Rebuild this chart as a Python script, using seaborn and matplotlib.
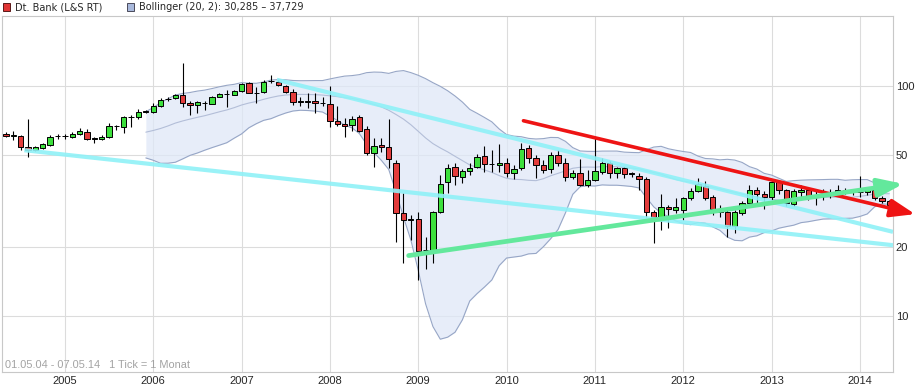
import numpy as np
import pandas as pd
import seaborn as sns
import matplotlib.pyplot as plt
from matplotlib.patches import Rectangle
from matplotlib.ticker import NullLocator

# monthly candles, May 2004 .. May 2014
opens = [61.9, 60.6, 60.6, 54.3, 52.8, 53.8, 55.4, 60.4, 60.6, 60.0,
         61.9, 63.1, 58.9, 58.9, 60.0, 66.6, 66.4, 73.3, 73.3, 77.1,
         77.1, 81.9, 87.7, 88.7, 91.4, 84.3, 82.7, 84.3, 83.5, 89.6,
         92.3, 91.4, 95.1, 103.0, 93.2, 94.2, 105.0, 104.1, 100.0, 94.2,
         85.3, 85.3, 86.0, 84.2, 83.5, 70.5, 68.4, 67.7, 73.3, 65.0,
         51.2, 55.4, 54.3, 46.2, 28.0, 26.2, 26.4, 19.3, 19.1, 28.4,
         38.2, 44.6, 40.0, 42.7, 44.5, 49.6, 45.7, 45.3, 46.4, 41.6,
         43.9, 53.5, 48.5, 45.3, 43.5, 50.0, 46.1, 40.1, 41.7, 37.1,
         39.1, 42.3, 46.1, 41.7, 43.9, 41.5, 40.7, 39.4, 28.2, 26.9,
         29.8, 28.9, 28.9, 32.5, 35.0, 36.7, 32.9, 29.2, 28.3, 24.6,
         28.1, 30.9, 35.1, 34.0, 32.9, 38.1, 35.1, 30.7, 34.4, 35.1,
         33.3, 33.6, 33.9, 34.4, 35.1, 34.9, 34.6, 34.6, 35.1, 32.6,
         31.6]
highs = [63.1, 63.7, 60.9, 71.9, 55.0, 56.5, 61.3, 62.0, 62.0, 63.0,
         65.5, 65.0, 60.0, 61.0, 68.9, 67.7, 74.0, 74.8, 79.4, 78.6,
         84.3, 88.7, 89.1, 92.5, 125.9, 86.0, 86.0, 85.5, 90.5, 93.0,
         95.6, 96.0, 103.0, 103.5, 99.0, 106.2, 111.6, 106.0, 101.0, 97.0,
         89.5, 93.3, 92.9, 89.8, 100.0, 81.9, 72.4, 74.1, 74.8, 66.7,
         59.2, 59.2, 71.7, 47.7, 34.2, 27.5, 28.4, 22.0, 28.6, 41.1,
         45.8, 46.2, 43.5, 46.4, 50.6, 54.6, 52.7, 56.0, 48.5, 45.3,
         56.3, 55.4, 50.0, 47.7, 51.8, 52.7, 48.5, 43.2, 48.0, 43.0,
         60.0, 48.5, 47.0, 44.6, 44.6, 42.2, 41.7, 40.0, 28.9, 34.0,
         30.5, 32.6, 33.0, 35.9, 39.7, 38.4, 33.5, 30.5, 29.0, 29.0,
         31.5, 37.1, 36.5, 35.0, 38.5, 39.0, 35.5, 35.5, 37.1, 36.0,
         35.0, 35.5, 35.5, 37.1, 36.0, 35.5, 40.4, 36.5, 35.5, 33.2,
         31.9]
lows = [60.0, 58.2, 52.7, 49.1, 52.3, 53.0, 55.0, 59.0, 59.0, 59.5,
        61.0, 58.0, 56.5, 58.0, 59.5, 64.4, 62.5, 66.4, 72.0, 76.3,
        76.5, 81.0, 86.0, 88.0, 81.0, 74.8, 76.3, 78.6, 83.0, 89.0,
        81.0, 91.0, 94.0, 93.0, 84.3, 93.0, 103.0, 100.0, 93.0, 82.2,
        81.9, 80.2, 76.3, 81.3, 66.4, 66.7, 60.2, 63.8, 63.0, 50.0,
        44.3, 51.8, 43.9, 21.0, 17.0, 21.4, 14.3, 16.0, 17.0, 28.0,
        34.2, 37.1, 37.7, 41.1, 44.0, 42.4, 42.4, 42.4, 40.3, 39.4,
        43.0, 46.1, 39.7, 42.0, 41.7, 45.0, 38.4, 39.5, 36.7, 36.5,
        38.5, 41.5, 39.7, 39.7, 39.7, 40.3, 35.3, 27.0, 20.7, 23.7,
        24.0, 28.0, 26.2, 32.0, 34.5, 32.0, 27.5, 27.0, 22.1, 23.0,
        27.5, 30.0, 30.9, 29.1, 32.0, 34.0, 30.0, 29.9, 33.0, 32.0,
        30.4, 32.0, 32.5, 33.5, 34.0, 33.5, 33.0, 33.5, 32.0, 31.0,
        30.1]
closes = [60.6, 60.9, 54.3, 52.7, 54.3, 56.0, 60.0, 60.4, 60.6, 61.9,
          63.7, 58.9, 58.9, 60.0, 67.0, 66.6, 73.3, 73.3, 77.1, 77.1,
          81.9, 86.9, 87.7, 91.4, 84.3, 82.7, 85.2, 84.3, 89.6, 92.3,
          92.3, 95.1, 102.0, 93.2, 93.2, 104.1, 105.0, 101.0, 94.2, 85.2,
          85.3, 85.3, 84.3, 84.2, 70.5, 68.4, 67.0, 71.9, 63.8, 51.2,
          54.9, 54.3, 48.1, 28.0, 26.2, 26.2, 19.1, 19.3, 28.4, 37.4,
          44.1, 40.7, 42.7, 44.0, 48.9, 45.8, 45.7, 46.0, 41.6, 43.4,
          53.0, 48.5, 45.3, 43.2, 50.0, 46.1, 40.1, 41.7, 37.1, 39.1,
          42.8, 46.4, 41.7, 43.9, 41.4, 41.5, 39.4, 28.2, 26.9, 29.8,
          29.2, 29.6, 32.5, 35.0, 37.4, 32.5, 29.2, 28.4, 24.6, 28.3,
          30.9, 35.1, 34.0, 32.9, 38.1, 35.1, 30.9, 34.8, 35.1, 33.3,
          33.3, 33.6, 33.9, 35.1, 35.1, 34.9, 34.6, 35.1, 32.6, 31.6,
          30.4]
years = list(range(2005, 2015))
price_ticks = [10, 20, 50, 100]

# drawn trend lines: (month index, price) at both ends
cyan_long = ([2.5, 120.5], [52.5, 20.3])
cyan_peak = ([36.8, 120.5], [106.2, 23.2])
red_arrow = ([70.3, 123.5], [70.5, 27.7])
green_arrow = ([54.7, 121.9], [18.3, 37.5])

sns.set_style("white")
plt.rcParams['font.family'] = ['DejaVu Sans']

df = pd.DataFrame({"month": np.arange(len(closes)), "open": opens,
                   "high": highs, "low": lows, "close": closes})
df["mid"] = df["close"].rolling(20).mean()
sd = df["close"].rolling(20).std(ddof=0)
df["upper"] = df["mid"] + 2 * sd
df["lower"] = df["mid"] - 2 * sd

fig = plt.figure(figsize=(9.19, 3.9), dpi=100)
ax = fig.add_axes([2 / 919, 18 / 390, 891 / 919, 356 / 390])
ax.set_yscale("log")

# bollinger band
ax.fill_between(df["month"], df["lower"], df["upper"], color="#dfe8f7",
                alpha=0.75, lw=0, zorder=1)
for col, c in [("upper", "#97a6c6"), ("lower", "#97a6c6"), ("mid", "#b3bed8")]:
    sns.lineplot(data=df, x="month", y=col, color=c, lw=0.8, ax=ax, zorder=2)

# candles
body_col = np.where(df["close"] > df["open"], "#3de03d",
                    np.where(df["close"] < df["open"], "#e23c3c", "black"))
ax.vlines(df["month"], df["low"], df["high"], color="black", lw=0.8, zorder=3)
height = (df["close"] - df["open"]).to_numpy()
height = np.where(np.abs(height) < 0.05, df["open"] * 0.003, height)
ax.bar(df["month"], height, bottom=df["open"], width=0.72, color=body_col,
       edgecolor="black", lw=0.7, zorder=3.5)

# trend lines
ax.plot(*cyan_long, color="#8ff1f7", lw=3, alpha=0.9, zorder=4,
        solid_capstyle="butt")
ax.plot(*cyan_peak, color="#8ff1f7", lw=3, alpha=0.9, zorder=4,
        solid_capstyle="butt")
for (xs, ys), c, w in [(red_arrow, "#ee1414", 2.6), (green_arrow, "#63e89c", 3.4)]:
    ann = ax.annotate("", xy=(xs[1], ys[1]), xytext=(xs[0], ys[0]),
                      arrowprops=dict(arrowstyle="-|>,head_length=1.5,head_width=0.55",
                                      color=c, lw=w, shrinkA=0, shrinkB=0,
                                      mutation_scale=10),
                      annotation_clip=False, zorder=5)
    ann.arrow_patch.set_clip_on(False)

ax.set_xlim(-0.54, 120.5)
ax.set_ylim(5.71, 201)
ax.set_xticks([8 + 12 * k for k in range(len(years))], [str(y) for y in years])
ax.set_yticks(price_ticks, [str(p) for p in price_ticks])
ax.yaxis.set_minor_locator(NullLocator())
ax.yaxis.tick_right()
ax.tick_params(axis="y", length=0, pad=2, labelsize=8)
ax.tick_params(axis="x", length=0, pad=3, labelsize=8)
for lab in ax.get_xticklabels() + ax.get_yticklabels():
    lab.set_family(["Liberation Sans"])
ax.grid(True, color="#dcdcdc", lw=0.8)
ax.set_axisbelow(True)
ax.set_xlabel("")
ax.set_ylabel("")
for s in ax.spines.values():
    s.set_color("#c8c8c8")
    s.set_linewidth(0.8)

ax.text(3 / 891, 4 / 356, "01.05.04 - 07.05.14   1 Tick = 1 Monat",
        transform=ax.transAxes, color="#a3a3a3", fontsize=7.9,
        family=["Liberation Sans"], va="baseline")

# legend row on top
fig.add_artist(Rectangle((2.5 / 919, 1 - 10.5 / 390), 7.5 / 919, 7.5 / 390,
                         transform=fig.transFigure, facecolor="#e03535",
                         edgecolor="#5a1a1a", lw=0.7))
fig.text(15 / 919, 1 - 7 / 390, "Dt. Bank (L&S RT)", fontsize=7, va="center")
fig.add_artist(Rectangle((126.5 / 919, 1 - 10.5 / 390), 7.5 / 919, 7.5 / 390,
                         transform=fig.transFigure, facecolor="#a9b9dc",
                         edgecolor="#4a4a5a", lw=0.7))
fig.text(139 / 919, 1 - 7 / 390, "Bollinger (20, 2): 30,285 \u2013 37,729",
         fontsize=7, va="center")

fig.savefig("out.png", dpi=100)
